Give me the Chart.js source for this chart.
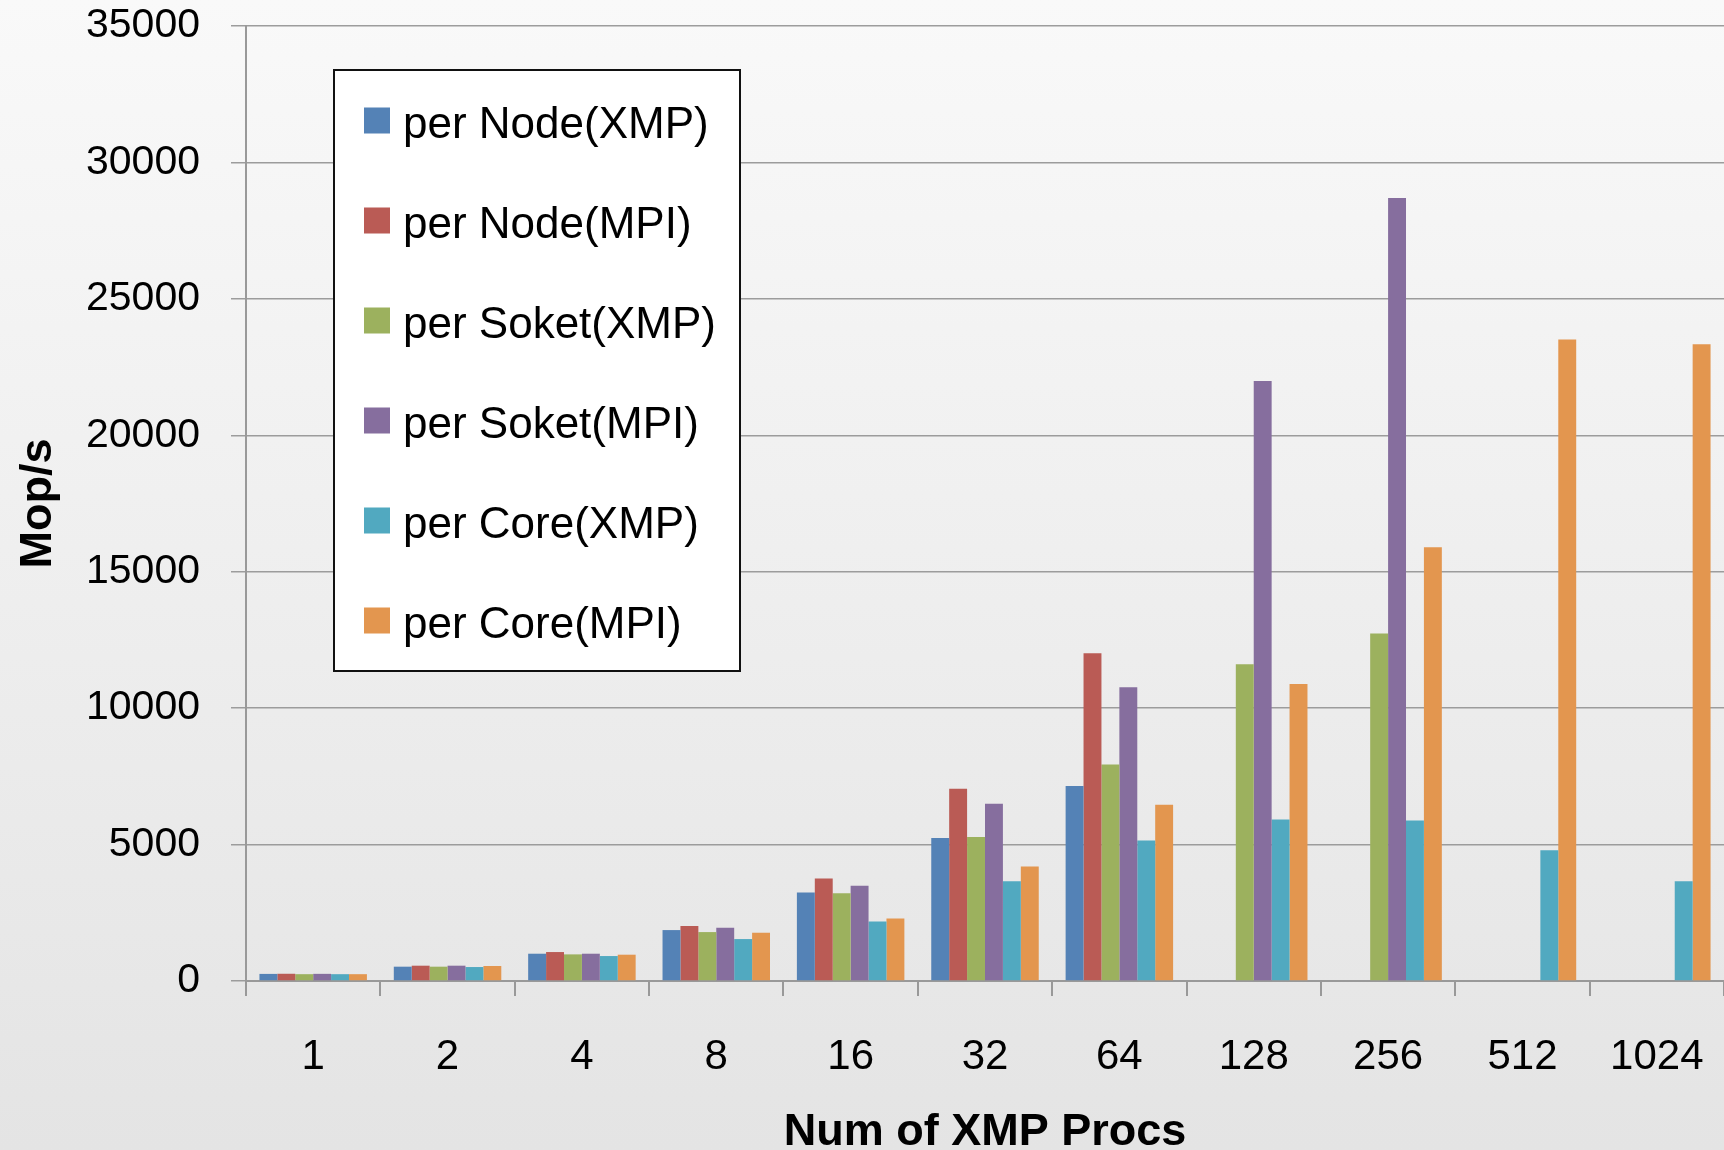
<!DOCTYPE html>
<html><head><meta charset="utf-8">
<script src="https://cdn.jsdelivr.net/npm/chart.js@4/dist/chart.umd.min.js"></script>
<style>
html,body{margin:0;padding:0;}
body{width:1724px;height:1150px;overflow:hidden;background:linear-gradient(to bottom,#f9f9f9 0%,#e4e4e4 100%);}
#wrap{position:relative;width:1724px;height:1150px;}
</style></head><body>
<div id="wrap"><canvas id="c" width="1724" height="1150"></canvas></div>
<script>
// ---- data ----
const categories = ['1','2','4','8','16','32','64','128','256','512','1024'];
const seriesNames = ['per Node(XMP)','per Node(MPI)','per Soket(XMP)','per Soket(MPI)','per Core(XMP)','per Core(MPI)'];
const perNodeXMP   = [260, 525, 1000, 1866, 3245, 5243, 7145, null, null, null, null];
const perNodeMPI   = [265, 561, 1061, 2013, 3757, 7048, 12010, null, null, null, null];
const perSoketXMP  = [250, 525, 976, 1793, 3219, 5280, 7938, 11609, 12739, null, null];
const perSoketMPI  = [262, 561, 1000, 1952, 3487, 6499, 10767, 21992, 28697, null, null];
const perCoreXMP   = [250, 512, 915, 1537, 2183, 3658, 5146, 5920, 5881, 4789, 3659];
const perCoreMPI   = [250, 549, 964, 1769, 2293, 4195, 6463, 10881, 15900, 23506, 23333];
const yTickValues  = [0, 5000, 10000, 15000, 20000, 25000, 30000, 35000];
const yTitle = 'Mop/s';
const xTitle = 'Num of XMP Procs';

const seriesValues = [perNodeXMP, perNodeMPI, perSoketXMP, perSoketMPI, perCoreXMP, perCoreMPI];
const colors = ['#5482B6','#BA5B55','#9CB15E','#866E9E','#51A9C0','#E3964F'];

const FONT = '"Liberation Sans", Arial, sans-serif';

const legendBox = {
  id: 'legendBox',
  afterDatasetsDraw(chart) {
    const ctx = chart.ctx;
    ctx.save();
    const x0 = 334, y0 = 70, w = 406, h = 601;
    ctx.fillStyle = '#ffffff';
    ctx.fillRect(x0, y0, w, h);
    ctx.lineWidth = 2;
    ctx.strokeStyle = '#111111';
    ctx.strokeRect(x0, y0, w, h);
    ctx.font = '44px ' + FONT;
    ctx.textBaseline = 'middle';
    ctx.textAlign = 'left';
    chart.data.datasets.forEach((ds, i) => {
      const cy = 120.5 + i * 100;
      ctx.fillStyle = ds.backgroundColor;
      ctx.fillRect(364, cy - 13, 26, 26);
      ctx.fillStyle = '#000000';
      ctx.fillText(ds.label, 403, cy + 5);
    });
    ctx.restore();
  }
};

new Chart(document.getElementById('c'), {
  type: 'bar',
  data: {
    labels: categories,
    datasets: seriesNames.map((name, i) => ({
      label: name,
      data: seriesValues[i],
      backgroundColor: colors[i],
      borderWidth: 0,
      categoryPercentage: 0.8,
      barPercentage: 1.0
    }))
  },
  options: {
    responsive: false,
    animation: false,
    events: [],
    layout: { padding: { top: 26, right: 0, left: 0, bottom: 0 } },
    plugins: { legend: { display: false }, tooltip: { enabled: false } },
    scales: {
      x: {
        afterFit(scale) { scale.height = 169; scale.paddingLeft = 0; scale.paddingRight = 0; },
        grid: { display: true, drawOnChartArea: false, drawTicks: true, tickLength: 15, color: '#999999', lineWidth: 2, offset: true },
        border: { display: true, color: '#999999', width: 2 },
        ticks: { color: '#000000', font: { family: FONT, size: 42 }, padding: 36, maxRotation: 0, autoSkip: false },
        title: { display: true, text: xTitle, color: '#000000', font: { family: FONT, size: 45, weight: 'bold', lineHeight: 1 }, padding: { top: 0, bottom: -5 } }
      },
      y: {
        min: 0, max: 35000,
        afterFit(scale) { scale.width = 246; scale.paddingTop = 0; scale.paddingBottom = 0; },
        afterBuildTicks(scale) { scale.ticks = yTickValues.map(v => ({ value: v })); },
        grid: { color: '#9c9c9c', lineWidth: 1.5, tickLength: 15, drawTicks: true },
        border: { display: true, color: '#999999', width: 2 },
        ticks: { color: '#000000', font: { family: FONT, size: 41 }, padding: 31, callback: (v) => String(v) },
        title: { display: true, text: yTitle, color: '#000000', font: { family: FONT, size: 45, weight: 'bold', lineHeight: 1.2 }, padding: { top: 12, bottom: 0 } }
      }
    }
  },
  plugins: [legendBox]
});
</script>
</body></html>
